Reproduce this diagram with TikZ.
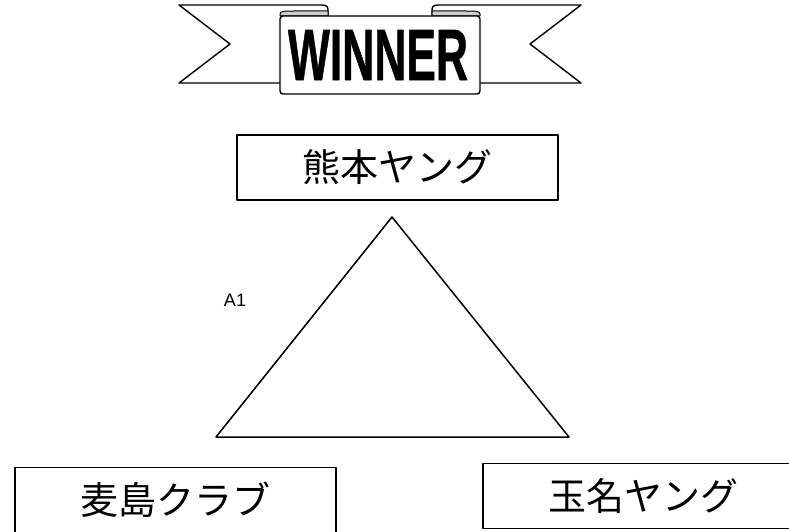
\documentclass[tikz,border=0pt]{standalone}
\usepackage{fontspec}
\setmainfont{Liberation Sans}
\newfontfamily\jp{Noto Sans CJK JP}
\newfontfamily\bannerfont[FakeBold=1]{Liberation Sans Bold}
\begin{document}
\begin{tikzpicture}[x=1pt,y=-1pt,line join=round,
    team/.style={draw,line width=1.3pt,minimum width=321pt,minimum height=65pt,inner sep=0pt,font=\jp\fontsize{38}{38}\selectfont}]
    \useasboundingbox(0,0)rectangle(789,532);
    \clip(0,0)rectangle(789,532);
    % banner
    \draw[line width=1.4pt,fill=white](280,83)--(179,83)--(230,44)--(179,5)--(322,5)..controls(328,5)and(328,8)..(328,11)--(328,16);
    \draw[line width=1.4pt,fill=white](480,83)--(581,83)--(530,44)--(581,5)--(438,5)..controls(432,5)and(432,8)..(432,11)--(432,16);
    \draw[line width=1pt,fill=black!20](280,16)--(280,14)..controls(280,11)and(285,11)..(295,11)--(328,11)--(328,16)--cycle;
    \draw[line width=1pt,fill=black!20](480,16)--(480,14)..controls(480,11)and(475,11)..(465,11)--(432,11)--(432,16)--cycle;
    \draw[line width=1.4pt,fill=white,rounded corners=3pt](280,16)rectangle(480,94);
    \node[inner sep=0pt](winner)at(378,55){\resizebox{180pt}{50pt}{\bannerfont WINNER}};
    % teams
    \node[team](kumamoto)at(397.5,167.5){熊本ヤング};
    \node[team](mugishima)at(175.5,500){麦島クラブ};
    \node[team](tamana)at(643.5,496){玉名ヤング};
    % bracket
    \coordinate(top)at(392,217);
    \coordinate(left)at(216,437);
    \coordinate(right)at(569,437);
    \draw[line width=1.5pt](top)--(right)--(left)--cycle;
    \node[font=\fontsize{18}{18}\selectfont](a1)at(235,300){A1};
\end{tikzpicture}
\end{document}
